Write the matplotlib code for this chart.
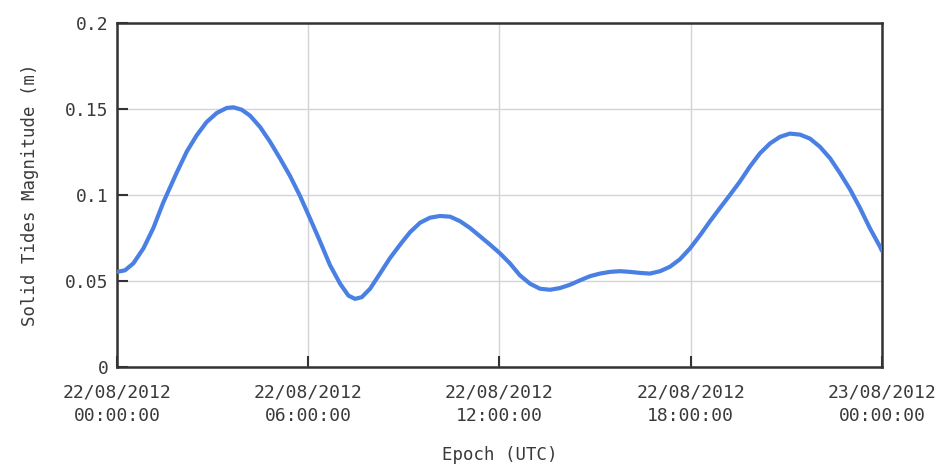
import matplotlib
matplotlib.use('Agg')
import matplotlib.pyplot as plt

# Solid tide magnitude over one day (hours since 22/08/2012 00:00 UTC)
hours = [0.0, 0.25, 0.51, 0.83, 1.14, 1.45, 1.87, 2.19, 2.50, 2.81, 3.13,
         3.44, 3.65, 3.91, 4.17, 4.49, 4.80, 5.11, 5.43, 5.74, 6.05, 6.37,
         6.68, 7.00, 7.26, 7.47, 7.68, 7.94, 8.25, 8.56, 8.88, 9.19, 9.51,
         9.82, 10.13, 10.45, 10.76, 11.07, 11.39, 11.70, 12.02, 12.33, 12.64,
         12.96, 13.27, 13.59, 13.90, 14.21, 14.53, 14.84, 15.15, 15.47,
         15.78, 16.09, 16.41, 16.72, 17.04, 17.35, 17.66, 17.98, 18.29,
         18.60, 18.92, 19.23, 19.55, 19.86, 20.17, 20.49, 20.80, 21.11,
         21.43, 21.74, 22.05, 22.37, 22.68, 23.00, 23.31, 23.62, 23.94, 24.0]
magnitude = [0.0553, 0.0562, 0.0602, 0.0690, 0.0808, 0.0956, 0.1129, 0.1253,
             0.1347, 0.1424, 0.1477, 0.1506, 0.1510, 0.1496, 0.1462, 0.1395,
             0.1310, 0.1214, 0.1110, 0.0995, 0.0866, 0.0730, 0.0593, 0.0484,
             0.0415, 0.0396, 0.0406, 0.0455, 0.0543, 0.0632, 0.0711, 0.0783,
             0.0839, 0.0868, 0.0878, 0.0874, 0.0848, 0.0809, 0.0760, 0.0712,
             0.0660, 0.0602, 0.0533, 0.0484, 0.0455, 0.0449, 0.0459, 0.0478,
             0.0504, 0.0528, 0.0543, 0.0553, 0.0557, 0.0553, 0.0547, 0.0543,
             0.0557, 0.0583, 0.0626, 0.0690, 0.0765, 0.0846, 0.0925, 0.1000,
             0.1080, 0.1166, 0.1242, 0.1300, 0.1338, 0.1357, 0.1351, 0.1328,
             0.1281, 0.1214, 0.1128, 0.1032, 0.0925, 0.0807, 0.0699, 0.0675]

xticks = [0, 6, 12, 18, 24]
xtick_labels = ['22/08/2012\n00:00:00', '22/08/2012\n06:00:00',
                '22/08/2012\n12:00:00', '22/08/2012\n18:00:00',
                '23/08/2012\n00:00:00']
yticks = [0, 0.05, 0.1, 0.15, 0.2]
ytick_labels = ['0', '0.05', '0.1', '0.15', '0.2']

plt.rcParams['font.family'] = ['DejaVu Sans Mono']
text_col = '#3a3a3a'

fig = plt.figure(figsize=(9.46, 4.65), dpi=100)
ax = fig.add_axes([0.1237, 0.2108, 0.8086, 0.7397])

ax.plot(hours, magnitude, color='#4a80e4', lw=3.0, solid_capstyle='round',
        solid_joinstyle='round', zorder=3)

ax.set_xlim(0, 24)
ax.set_ylim(0, 0.2)
ax.set_xticks(xticks)
ax.set_xticklabels(xtick_labels, linespacing=1.4)
ax.set_yticks(yticks)
ax.set_yticklabels(ytick_labels)

ax.grid(True, color='#d4d4d4', lw=1.0)
ax.set_axisbelow(True)
ax.tick_params(direction='in', length=8, width=1.5, color='#333333',
               labelsize=13, labelcolor=text_col)
ax.tick_params(axis='x', pad=12)
ax.tick_params(axis='y', pad=6)
for s in ax.spines.values():
    s.set_color('#333333')
    s.set_linewidth(1.8)

ax.set_xlabel('Epoch (UTC)', fontsize=12.5, color=text_col, labelpad=15)
ax.set_ylabel('Solid Tides Magnitude (m)', fontsize=12.5, color=text_col, labelpad=19)

plt.savefig('out.png', dpi=100)
